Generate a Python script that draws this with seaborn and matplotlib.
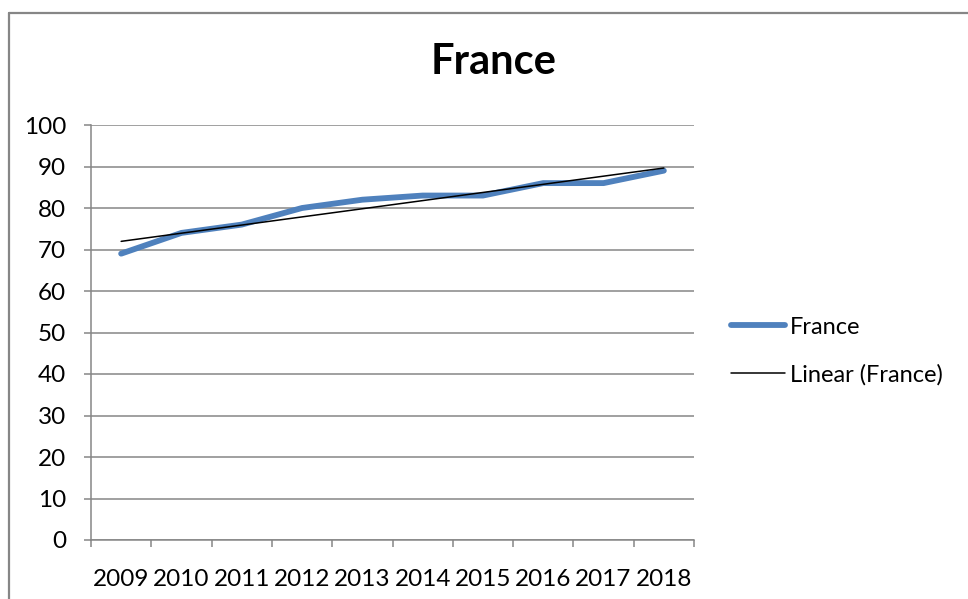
import numpy as np
import pandas as pd
import matplotlib
matplotlib.use("Agg")
import matplotlib.pyplot as plt
from matplotlib.lines import Line2D
import seaborn as sns

# Data
years = ["2009", "2010", "2011", "2012", "2013", "2014", "2015", "2016", "2017", "2018"]
france = [69, 74, 76, 80, 82, 83, 83, 86, 86, 89]

BLUE = "#4F81BD"
GRID = "#868686"

df = pd.DataFrame({"pos": np.arange(len(years)), "year": years, "value": france})

sns.set_theme(style="white")
plt.rcParams["font.family"] = ["Lato", "DejaVu Sans"]
plt.rcParams.update({"text.color": "black", "axes.labelcolor": "black",
                     "xtick.color": "black", "ytick.color": "black"})

fig = plt.figure(figsize=(9.68, 5.99), dpi=100)
ax = fig.add_axes([91 / 968, 59 / 599, 603 / 968, 415 / 599])

sns.lineplot(data=df, x="pos", y="value", ax=ax, color=BLUE, linewidth=4.2,
             solid_capstyle="round", label="France")
sns.regplot(data=df, x="pos", y="value", ax=ax, scatter=False, ci=None,
            color="black", line_kws={"linewidth": 1.1}, label="Linear (France)")

# axes styling (Excel look)
ax.set_xlim(-0.5, len(years) - 0.5)
ax.set_ylim(0, 100)
ax.set_yticks(np.arange(0, 101, 10))
ax.yaxis.grid(True, color=GRID, linewidth=1.1)
ax.set_axisbelow(True)
ax.set_xlabel("")
ax.set_ylabel("")
for side in ["top", "right"]:
    ax.spines[side].set_visible(False)
for side in ["left", "bottom"]:
    ax.spines[side].set_color(GRID)
    ax.spines[side].set_linewidth(1.1)

ax.set_xticks(np.arange(-0.5, len(years), 1.0))
ax.set_xticklabels([])
ax.set_xticks(np.arange(len(years)), minor=True)
ax.set_xticklabels(years, minor=True)
ax.tick_params(axis="x", which="major", direction="out", length=5, width=1.1,
               color=GRID, bottom=True)
ax.tick_params(axis="x", which="minor", length=0, pad=21, labelsize=17.5, labelcolor="black")
ax.tick_params(axis="y", direction="out", length=5, width=1.1, color=GRID,
               left=True, pad=13, labelsize=17.5, labelcolor="black")

fig.text(494 / 968, 1 - 62 / 599, "France", ha="center", va="center",
         fontsize=30, fontweight="bold", color="black")

ax.legend(loc="center left", bbox_to_anchor=(731 / 968, 1 - 351 / 599),
          bbox_transform=fig.transFigure, frameon=False, fontsize=17,
          handlelength=2.3, handletextpad=0.2, labelspacing=1.1, borderaxespad=0,
          borderpad=0, labelcolor="black")

# outer chart frame
fig.add_artist(Line2D([9 / 968, 9 / 968], [0, 1 - 13 / 599], transform=fig.transFigure,
                      color=GRID, linewidth=1.6))
fig.add_artist(Line2D([9 / 968, 1], [1 - 13 / 599, 1 - 13 / 599], transform=fig.transFigure,
                      color=GRID, linewidth=1.6))

fig.savefig("out.png", dpi=100)
